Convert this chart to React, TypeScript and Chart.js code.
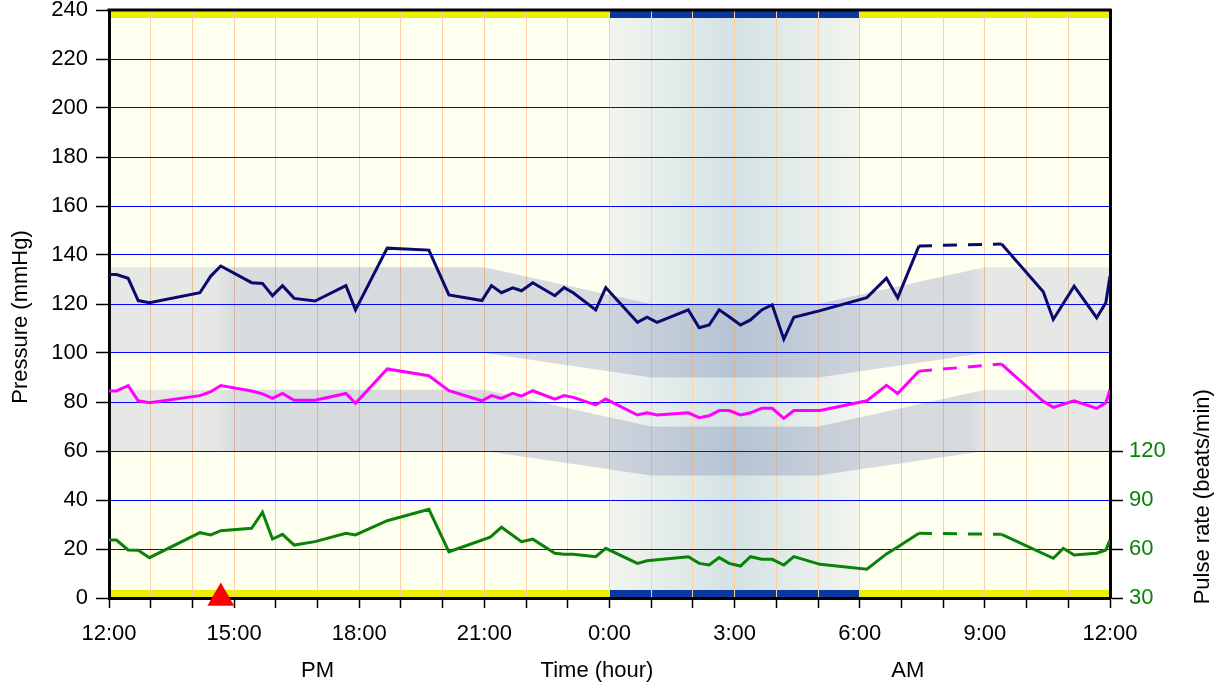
import React, { useEffect, useRef } from "react";
import { Chart, registerables } from "chart.js";

Chart.register(...registerables);

// ---- data ----
const bpTimes = [12.0, 12.18, 12.46, 12.7, 12.97, 14.18, 14.44, 14.68, 15.42, 15.68, 15.92, 16.16, 16.44, 16.94, 17.68, 17.91, 18.67, 19.67, 20.15, 20.94, 21.17, 21.41, 21.68, 21.89, 22.16, 22.69, 22.91, 23.13, 23.67, 23.91, 24.67, 24.9, 25.14, 25.89, 26.15, 26.39, 26.63, 26.87, 27.14, 27.38, 27.65, 27.9, 28.18, 28.42, 29.05, 30.17, 30.64, 30.91, 31.42, 32.4, 33.4, 34.4, 34.64, 35.14, 35.68, 35.9, 36.0];
const systolic = [132, 132, 130.5, 121.4, 120.5, 124.6, 131.4, 135.5, 128.7, 128.4, 123.4, 127.5, 122.3, 121.2, 127.5, 117.6, 142.8, 142, 123.7, 121.4, 127.5, 124.6, 126.6, 125.4, 128.7, 123.4, 126.7, 124.6, 117.6, 126.7, 112.5, 114.6, 112.5, 117.6, 110.3, 111.4, 117.6, 114.8, 111.4, 113.5, 117.6, 119.7, 105.6, 114.6, 117.3, 122.6, 130.5, 122.5, 143.7, null, 144.5, 125, 113.7, 127.3, 114.4, 120.5, 131.4];
const diastolic = [84.5, 84.5, 86.7, 80.5, 79.7, 82.6, 84.2, 86.7, 84.5, 83.3, 81.5, 83.5, 80.7, 80.7, 83.5, 79.5, 93.5, 90.7, 84.6, 80.5, 82.6, 81.5, 83.5, 82.4, 84.6, 81.2, 82.6, 81.9, 78.8, 81.2, 74.7, 75.6, 74.7, 75.6, 73.6, 74.4, 76.5, 76.5, 74.7, 75.6, 77.4, 77.4, 73.3, 76.5, 76.5, 80.5, 86.8, 83.5, 92.6, null, 95.5, 80.3, 77.8, 80.5, 77.4, 79.7, 84.9];
const pulseTimes = [12.0, 12.18, 12.46, 12.7, 12.97, 14.18, 14.44, 14.68, 15.42, 15.68, 15.92, 16.16, 16.44, 16.94, 17.68, 17.91, 18.67, 19.67, 20.15, 21.14, 21.41, 21.89, 22.16, 22.69, 22.91, 23.13, 23.67, 23.91, 24.67, 24.9, 25.89, 26.15, 26.39, 26.63, 26.87, 27.14, 27.38, 27.65, 27.9, 28.18, 28.42, 29.05, 30.17, 30.64, 30.92, 31.42, 32.4, 33.4, 34.64, 34.88, 35.14, 35.68, 35.9, 36.0];
const pulse = [65.5, 65.5, 59.4, 59.2, 54.7, 70, 68.6, 71.2, 72.7, 82.5, 66.1, 69, 62.4, 64.5, 69.6, 68.6, 77.3, 84.3, 58.3, 67.2, 73.3, 64.5, 66, 57.4, 56.8, 56.8, 55.3, 60.4, 51.2, 52.8, 55.3, 51.2, 50.2, 54.7, 51.2, 49.6, 55.3, 53.7, 53.7, 50.2, 55.3, 50.6, 47.6, 57, 61.4, 69.6, null, 69, 54.3, 60.4, 56.3, 57.4, 59.4, 65.5];

const bandTimes = [12, 21, 25, 29, 33, 36];
const sysBandHigh = [135, 135, 120, 120, 135, 135];
const sysBandLow = [100, 100, 90, 90, 100, 100];
const diaBandHigh = [85, 85, 70, 70, 85, 85];
const diaBandLow = [60, 60, 50, 50, 60, 60];

const eventTimes = [14.68];
const eventValues = [0];

const xTickValues = [12, 15, 18, 21, 24, 27, 30, 33, 36];
const xTickLabels = ["12:00", "15:00", "18:00", "21:00", "0:00", "3:00", "6:00", "9:00", "12:00"];
const pulseTicks = [30, 60, 90, 120];
const nightStart = 24;
const nightEnd = 30;
const periodTimes = [17.0, 23.7, 31.15];
const periodTexts = ["PM", "Time (hour)", "AM"];

const FONT = '"Liberation Sans", Arial, Helvetica, sans-serif';

const zip = (xs: number[], ys: (number | null)[]) => xs.map((x, i) => ({ x, y: ys[i] }));

const skipped = (ctx: any, value: any) => (ctx.p0.skip || ctx.p1.skip ? value : undefined);

const bandFill = (c: any) => {
  const chart = c.chart;
  const area = chart.chartArea;
  if (!area) return "rgba(45,65,150,0.16)";
  const g = chart.ctx.createLinearGradient(area.left, 0, area.right, 0);
  g.addColorStop(0, "rgba(45,65,150,0.12)");
  g.addColorStop(0.108, "rgba(45,65,150,0.12)");
  g.addColorStop(0.125, "rgba(45,65,140,0.19)");
  g.addColorStop(0.86, "rgba(45,65,140,0.19)");
  g.addColorStop(0.877, "rgba(45,65,150,0.12)");
  g.addColorStop(1, "rgba(45,65,150,0.12)");
  return g;
};

const bgPlugin = {
  id: "bgPlugin",
  beforeDraw(chart: any) {
    const { ctx, chartArea, scales } = chart;
    const { left, right, top, bottom } = chartArea;
    const x = scales.x;
    ctx.save();
    ctx.fillStyle = "#fffff0";
    ctx.fillRect(left, top, right - left, bottom - top);
    const n0 = x.getPixelForValue(nightStart);
    const n1 = x.getPixelForValue(nightEnd);
    const g = ctx.createLinearGradient(n0, 0, n1, 0);
    g.addColorStop(0, "#f2f5ee");
    g.addColorStop(0.5, "#d4e2e5");
    g.addColorStop(1, "#f2f5ee");
    ctx.fillStyle = g;
    ctx.fillRect(n0, top, n1 - n0, bottom - top);
    const bh = 8;
    ctx.fillStyle = "#eeee00";
    ctx.fillRect(left, top, n0 - left, bh);
    ctx.fillRect(n1, top, right - n1, bh);
    ctx.fillRect(left, bottom - bh, n0 - left, bh);
    ctx.fillRect(n1, bottom - bh, right - n1, bh);
    ctx.fillStyle = "#0a37a0";
    ctx.fillRect(n0, top, n1 - n0, bh);
    ctx.fillRect(n0, bottom - bh, n1 - n0, bh);
    ctx.restore();
  },
  afterDraw(chart: any) {
    const { ctx, chartArea, scales } = chart;
    const { left, right, top, bottom } = chartArea;
    ctx.save();
    ctx.strokeStyle = "#000";
    ctx.lineWidth = 3;
    ctx.beginPath();
    ctx.moveTo(left - 1.5, top);
    ctx.lineTo(right + 1.5, top);
    ctx.stroke();

    ctx.fillStyle = "#000";
    ctx.font = `22px ${FONT}`;
    ctx.textAlign = "center";
    ctx.textBaseline = "middle";
    ctx.save();
    ctx.translate(21, (top + bottom) / 2 + 13);
    ctx.rotate(-Math.PI / 2);
    ctx.fillText("Pressure (mmHg)", 0, 0);
    ctx.restore();
    ctx.save();
    ctx.translate(right + 93, scales.y2.getPixelForValue(92));
    ctx.rotate(-Math.PI / 2);
    ctx.fillText("Pulse rate (beats/min)", 0, 0);
    ctx.restore();
    periodTimes.forEach((t, i) => {
      ctx.fillText(periodTexts[i], scales.x.getPixelForValue(t), bottom + 73);
    });
    ctx.restore();
  },
};

export default function App() {
  const ref = useRef<HTMLCanvasElement | null>(null);
  useEffect(() => {
    if (!ref.current) return;
    const lineCommon = {
      type: "line" as const,
      pointRadius: 0,
      borderWidth: 3,
      tension: 0,
      spanGaps: true,
      fill: false,
      borderJoinStyle: "miter" as const,
    };
    const bandCommon = {
      type: "line" as const,
      pointRadius: 0,
      borderWidth: 0,
      tension: 0,
      borderColor: "rgba(0,0,0,0)",
    };
    const chart = new Chart(ref.current, {
      type: "line",
      data: {
        datasets: [
          {
            type: "scatter",
            data: zip(eventTimes, eventValues),
            pointStyle: "triangle",
            pointRadius: 15.5,
            pointHoverRadius: 15.5,
            backgroundColor: "#ff0000",
            borderColor: "#ff0000",
            borderWidth: 0,
            clip: false,
            yAxisID: "y",
          } as any,
          {
            ...lineCommon,
            data: zip(pulseTimes, pulse),
            borderColor: "#0a820a",
            yAxisID: "y2",
            segment: { borderDash: (c: any) => skipped(c, [14, 11]), borderDashOffset: 1 } as any,
          },
          {
            ...lineCommon,
            data: zip(bpTimes, diastolic),
            borderColor: "#ff00ff",
            yAxisID: "y",
            segment: { borderDash: (c: any) => skipped(c, [14, 11]), borderDashOffset: 1 } as any,
          },
          {
            ...lineCommon,
            data: zip(bpTimes, systolic),
            borderColor: "#0a0a6e",
            yAxisID: "y",
            segment: { borderDash: (c: any) => skipped(c, [14, 11]), borderDashOffset: 1 } as any,
          },
          { ...bandCommon, data: zip(bandTimes, sysBandLow), fill: false, yAxisID: "y" },
          { ...bandCommon, data: zip(bandTimes, sysBandHigh), fill: "-1", backgroundColor: bandFill, yAxisID: "y" },
          { ...bandCommon, data: zip(bandTimes, diaBandLow), fill: false, yAxisID: "y" },
          { ...bandCommon, data: zip(bandTimes, diaBandHigh), fill: "-1", backgroundColor: bandFill, yAxisID: "y" },
        ] as any,
      },
      options: {
        responsive: false,
        animation: false,
        events: [],
        layout: { autoPadding: false, padding: { top: 10, left: 0, right: 0, bottom: 0 } },
        plugins: {
          legend: { display: false },
          tooltip: { enabled: false },
          filler: { propagate: false },
        },
        scales: {
          x: {
            type: "linear",
            min: 12,
            max: 36,
            afterBuildTicks: (s: any) => {
              const t = [];
              for (let v = 12; v <= 36; v++) t.push({ value: v });
              s.ticks = t;
            },
            afterFit: (s: any) => {
              s.height = 89;
              s.paddingLeft = 0;
              s.paddingRight = 0;
            },
            ticks: {
              autoSkip: false,
              maxRotation: 0,
              color: "#000",
              padding: 13,
              font: { size: 22, family: FONT },
              callback: (v: any) => {
                const i = xTickValues.indexOf(Number(v));
                return i >= 0 ? xTickLabels[i] : "";
              },
            },
            grid: {
              color: (c: any) =>
                c.tick && (c.tick.value === 12 || c.tick.value === 36) ? "rgba(0,0,0,0)" : "#fcd0a2",
              lineWidth: 1,
              tickColor: "#000",
              tickLength: 10,
              tickWidth: 1.5,
            },
            border: { display: true, color: "#000", width: 3 },
          },
          y: {
            type: "linear",
            position: "left",
            min: 0,
            max: 240,
            afterFit: (s: any) => {
              s.width = 109;
              s.paddingTop = 0;
              s.paddingBottom = 0;
            },
            ticks: {
              stepSize: 20,
              color: "#000",
              padding: 8,
              font: { size: 22, family: FONT },
            },
            grid: {
              color: (c: any) =>
                c.tick && (c.tick.value === 0 || c.tick.value === 240) ? "rgba(0,0,0,0)" : "#0000ff",
              lineWidth: 1,
              tickColor: "#000",
              tickLength: 13,
              tickWidth: 1.5,
            },
            border: { display: true, color: "#000", width: 3 },
          },
          y2: {
            type: "linear",
            position: "right",
            min: 30,
            max: 390,
            afterBuildTicks: (s: any) => {
              s.ticks = pulseTicks.map((v) => ({ value: v }));
            },
            afterFit: (s: any) => {
              s.width = 111;
              s.paddingTop = 0;
              s.paddingBottom = 0;
            },
            ticks: {
              color: "#0a820a",
              padding: 6,
              font: { size: 22, family: FONT },
            },
            grid: {
              drawOnChartArea: false,
              tickColor: "#000",
              tickLength: 13,
              tickWidth: 1.5,
            },
            border: { display: true, color: "#000", width: 3 },
          },
        },
      } as any,
      plugins: [bgPlugin],
    });
    return () => chart.destroy();
  }, []);
  return (
    <div style={{ position: "absolute", left: 0, top: 0, width: 1221, height: 687, background: "#fff" }}>
      <canvas ref={ref} width={1221} height={687} style={{ display: "block" }} />
    </div>
  );
}
